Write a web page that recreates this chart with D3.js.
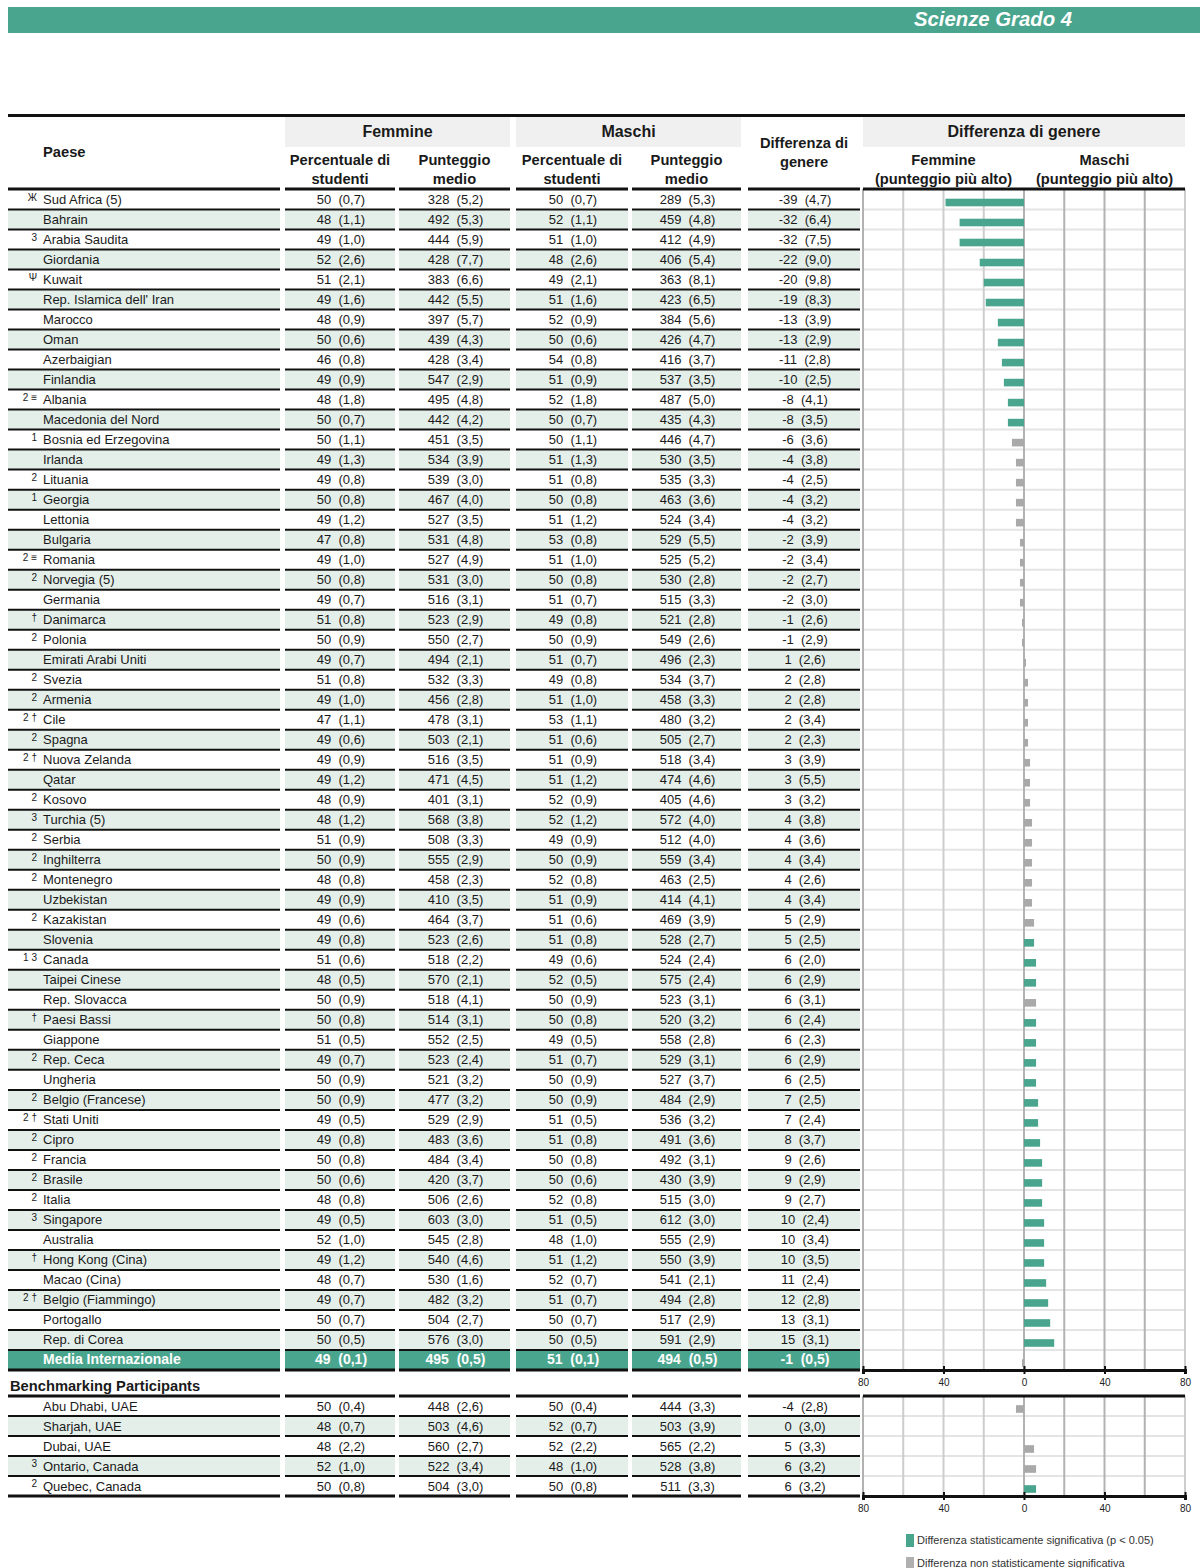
<!DOCTYPE html>
<html lang="it">
<head>
<meta charset="UTF-8" />
<title>Scienze Grado 4</title>
<script src="https://d3js.org/d3.v7.min.js"></script>
<style>
  body { margin: 0; background: #fff; font-family: "Liberation Sans", Arial, sans-serif; }
  svg { display: block; }
  .cell { font-size: 13px; fill: #1a1a1a; white-space: pre; }
  .hdr { font-size: 14.7px; font-weight: bold; fill: #1a1a1a; }
  .grp { font-size: 16px; }
  .note { font-size: 10px; fill: #1a1a1a; white-space: pre; }
  .tick text { font-size: 10px; fill: #222; font-family: "Liberation Sans", Arial, sans-serif; }
  .legend { font-size: 11px; fill: #333; }
</style>
</head>
<body>
<svg width="1200" height="1568"></svg>
<script>
// ---- data ----
const countries = ["Sud Africa (5)","Bahrain","Arabia Saudita","Giordania","Kuwait","Rep. Islamica dell' Iran","Marocco","Oman","Azerbaigian","Finlandia",
  "Albania","Macedonia del Nord","Bosnia ed Erzegovina","Irlanda","Lituania","Georgia","Lettonia","Bulgaria","Romania","Norvegia (5)",
  "Germania","Danimarca","Polonia","Emirati Arabi Uniti","Svezia","Armenia","Cile","Spagna","Nuova Zelanda","Qatar",
  "Kosovo","Turchia (5)","Serbia","Inghilterra","Montenegro","Uzbekistan","Kazakistan","Slovenia","Canada","Taipei Cinese",
  "Rep. Slovacca","Paesi Bassi","Giappone","Rep. Ceca","Ungheria","Belgio (Francese)","Stati Uniti","Cipro","Francia","Brasile",
  "Italia","Singapore","Australia","Hong Kong (Cina)","Macao (Cina)","Belgio (Fiammingo)","Portogallo","Rep. di Corea","Media Internazionale"];
const notes = ["Ж","","3","","Ψ","","","","","",
  "2 ≡","","1","","2","1","","","2 ≡","2",
  "","†","2","","2","2","2 †","2","2 †","",
  "2","3","2","2","2","","2","","1 3","",
  "","†","","2","","2","2 †","2","2","2",
  "2","3","","†","","2 †","","",""];
const fPct = [50,48,49,52,51,49,48,50,46,49, 48,50,50,49,49,50,49,47,49,50, 49,51,50,49,51,49,47,49,49,49,
  48,48,51,50,48,49,49,49,51,48, 50,50,51,49,50,50,49,49,50,50, 48,49,52,49,48,49,50,50,49];
const fPctSe = [0.7,1.1,1.0,2.6,2.1,1.6,0.9,0.6,0.8,0.9, 1.8,0.7,1.1,1.3,0.8,0.8,1.2,0.8,1.0,0.8, 0.7,0.8,0.9,0.7,0.8,1.0,1.1,0.6,0.9,1.2,
  0.9,1.2,0.9,0.9,0.8,0.9,0.6,0.8,0.6,0.5, 0.9,0.8,0.5,0.7,0.9,0.9,0.5,0.8,0.8,0.6, 0.8,0.5,1.0,1.2,0.7,0.7,0.7,0.5,0.1];
const fScore = [328,492,444,428,383,442,397,439,428,547, 495,442,451,534,539,467,527,531,527,531, 516,523,550,494,532,456,478,503,516,471,
  401,568,508,555,458,410,464,523,518,570, 518,514,552,523,521,477,529,483,484,420, 506,603,545,540,530,482,504,576,495];
const fScoreSe = [5.2,5.3,5.9,7.7,6.6,5.5,5.7,4.3,3.4,2.9, 4.8,4.2,3.5,3.9,3.0,4.0,3.5,4.8,4.9,3.0, 3.1,2.9,2.7,2.1,3.3,2.8,3.1,2.1,3.5,4.5,
  3.1,3.8,3.3,2.9,2.3,3.5,3.7,2.6,2.2,2.1, 4.1,3.1,2.5,2.4,3.2,3.2,2.9,3.6,3.4,3.7, 2.6,3.0,2.8,4.6,1.6,3.2,2.7,3.0,0.5];
const mPct = [50,52,51,48,49,51,52,50,54,51, 52,50,50,51,51,50,51,53,51,50, 51,49,50,51,49,51,53,51,51,51,
  52,52,49,50,52,51,51,51,49,52, 50,50,49,51,50,50,51,51,50,50, 52,51,48,51,52,51,50,50,51];
const mPctSe = [0.7,1.1,1.0,2.6,2.1,1.6,0.9,0.6,0.8,0.9, 1.8,0.7,1.1,1.3,0.8,0.8,1.2,0.8,1.0,0.8, 0.7,0.8,0.9,0.7,0.8,1.0,1.1,0.6,0.9,1.2,
  0.9,1.2,0.9,0.9,0.8,0.9,0.6,0.8,0.6,0.5, 0.9,0.8,0.5,0.7,0.9,0.9,0.5,0.8,0.8,0.6, 0.8,0.5,1.0,1.2,0.7,0.7,0.7,0.5,0.1];
const mScore = [289,459,412,406,363,423,384,426,416,537, 487,435,446,530,535,463,524,529,525,530, 515,521,549,496,534,458,480,505,518,474,
  405,572,512,559,463,414,469,528,524,575, 523,520,558,529,527,484,536,491,492,430, 515,612,555,550,541,494,517,591,494];
const mScoreSe = [5.3,4.8,4.9,5.4,8.1,6.5,5.6,4.7,3.7,3.5, 5.0,4.3,4.7,3.5,3.3,3.6,3.4,5.5,5.2,2.8, 3.3,2.8,2.6,2.3,3.7,3.3,3.2,2.7,3.4,4.6,
  4.6,4.0,4.0,3.4,2.5,4.1,3.9,2.7,2.4,2.4, 3.1,3.2,2.8,3.1,3.7,2.9,3.2,3.6,3.1,3.9, 3.0,3.0,2.9,3.9,2.1,2.8,2.9,2.9,0.5];
const diff = [-39,-32,-32,-22,-20,-19,-13,-13,-11,-10, -8,-8,-6,-4,-4,-4,-4,-2,-2,-2, -2,-1,-1,1,2,2,2,2,3,3,
  3,4,4,4,4,4,5,5,6,6, 6,6,6,6,6,7,7,8,9,9, 9,10,10,10,11,12,13,15,-1];
const diffSe = [4.7,6.4,7.5,9.0,9.8,8.3,3.9,2.9,2.8,2.5, 4.1,3.5,3.6,3.8,2.5,3.2,3.2,3.9,3.4,2.7, 3.0,2.6,2.9,2.6,2.8,2.8,3.4,2.3,3.9,5.5,
  3.2,3.8,3.6,3.4,2.6,3.4,2.9,2.5,2.0,2.9, 3.1,2.4,2.3,2.9,2.5,2.5,2.4,3.7,2.6,2.9, 2.7,2.4,3.4,3.5,2.4,2.8,3.1,3.1,0.5];
const significant = [1,1,1,1,1,1,1,1,1,1, 1,1,0,0,0,0,0,0,0,0, 0,0,0,0,0,0,0,0,0,0,
  0,0,0,0,0,0,0,1,1,1, 0,1,1,1,1,1,1,1,1,1, 1,1,1,1,1,1,1,1,0];

const benchNames = ["Abu Dhabi, UAE","Sharjah, UAE","Dubai, UAE","Ontario, Canada","Quebec, Canada"];
const benchNotes = ["","","","3","2"];
const bfPct = [50,48,48,52,50];
const bfPctSe = [0.4,0.7,2.2,1.0,0.8];
const bfScore = [448,503,560,522,504];
const bfScoreSe = [2.6,4.6,2.7,3.4,3.0];
const bmPct = [50,52,52,48,50];
const bmPctSe = [0.4,0.7,2.2,1.0,0.8];
const bmScore = [444,503,565,528,511];
const bmScoreSe = [3.3,3.9,2.2,3.8,3.3];
const bDiff = [-4,0,5,6,6];
const bDiffSe = [2.8,3.0,3.3,3.2,3.2];
const bSignificant = [0,0,0,0,1];

const diffTicks = [-80,-40,0,40,80];

// ---- setup ----
const svg = d3.select("svg");
const teal = "#4aa58e", grayBar = "#a9a9a9", stripe = "#e4efea", headBg = "#f0f0f0";
const it = d3.formatLocale({decimal: ",", thousands: ".", grouping: [3], currency: ["", ""]});
const f1 = it.format(".1f");
const cell = (v, se) => `${v}  (${f1(se)})`;

const cols = [
  {x0: 8, x1: 280},
  {x0: 285, x1: 395},
  {x0: 399, x1: 510},
  {x0: 516, x1: 628},
  {x0: 632, x1: 741},
  {x0: 748, x1: 860}
];
const chartX0 = 863, chartX1 = 1185;
const x = d3.scaleLinear().domain([-80, 80]).range([chartX0, chartX1]);

function buildRows(names, nts, a, b, c, d, e, f, g, h, dv, dse, sig) {
  return names.map((n, i) => ({
    name: n, note: nts[i],
    vals: [cell(a[i], b[i]), cell(c[i], d[i]), cell(e[i], f[i]), cell(g[i], h[i]), cell(dv[i], dse[i])],
    diff: dv[i], sig: !!sig[i], avg: n === "Media Internazionale"
  }));
}
const mainRows = buildRows(countries, notes, fPct, fPctSe, fScore, fScoreSe, mPct, mPctSe, mScore, mScoreSe, diff, diffSe, significant);
const benchRows = buildRows(benchNames, benchNotes, bfPct, bfPctSe, bfScore, bfScoreSe, bmPct, bmPctSe, bmScore, bmScoreSe, bDiff, bDiffSe, bSignificant);

const yMain = d3.scaleBand().domain(d3.range(mainRows.length)).range([189.5, 1370]);
const yBench = d3.scaleBand().domain(d3.range(benchRows.length)).range([1396, 1496]);

// ---- title band ----
svg.append("rect").attr("x", 8).attr("y", 7).attr("width", 1192).attr("height", 26).attr("fill", teal);
svg.append("text").attr("x", 993).attr("y", 26).attr("text-anchor", "middle")
  .attr("fill", "#fff").attr("font-size", 20).attr("font-weight", "bold").attr("font-style", "italic")
  .attr("textLength", 158).attr("lengthAdjust", "spacingAndGlyphs")
  .text("Scienze Grado 4");

// ---- table header ----
svg.append("line").attr("x1", 8).attr("x2", chartX1).attr("y1", 115.5).attr("y2", 115.5)
  .attr("stroke", "#111").attr("stroke-width", 3);

const groups = [
  {label: "Femmine", x0: cols[1].x0, x1: cols[2].x1},
  {label: "Maschi", x0: cols[3].x0, x1: cols[4].x1},
  {label: "Differenza di genere", x0: chartX0, x1: chartX1}
];
svg.selectAll("rect.grp").data(groups).enter().append("rect").attr("class", "grp")
  .attr("x", d => d.x0).attr("y", 117).attr("width", d => d.x1 - d.x0).attr("height", 30).attr("fill", headBg);
svg.selectAll("text.grp").data(groups).enter().append("text").attr("class", "hdr grp")
  .attr("x", d => (d.x0 + d.x1) / 2).attr("y", 137).attr("text-anchor", "middle").text(d => d.label);

svg.append("text").attr("class", "hdr").attr("x", 43).attr("y", 157).text("Paese");

const subHeads = [
  {cx: (cols[1].x0 + cols[1].x1) / 2, lines: ["Percentuale di", "studenti"], y: 165},
  {cx: (cols[2].x0 + cols[2].x1) / 2, lines: ["Punteggio", "medio"], y: 165},
  {cx: (cols[3].x0 + cols[3].x1) / 2, lines: ["Percentuale di", "studenti"], y: 165},
  {cx: (cols[4].x0 + cols[4].x1) / 2, lines: ["Punteggio", "medio"], y: 165},
  {cx: (cols[5].x0 + cols[5].x1) / 2, lines: ["Differenza di", "genere"], y: 148},
  {cx: x(-40), lines: ["Femmine", "(punteggio più alto)"], y: 165},
  {cx: x(40), lines: ["Maschi", "(punteggio più alto)"], y: 165}
];
subHeads.forEach(h => {
  h.lines.forEach((l, k) => {
    svg.append("text").attr("class", "hdr").attr("x", h.cx).attr("y", h.y + k * 19)
      .attr("text-anchor", "middle").text(l);
  });
});

// ---- block drawing ----
function drawBlock(rows, y, topY) {
  const g = svg.append("g");
  const bw = y.bandwidth();
  const bottom = y.range()[1];

  // stripes / highlighted row
  rows.forEach((r, i) => {
    if (r.avg || i % 2 === 1) {
      g.selectAll(null).data(cols).enter().append("rect")
        .attr("x", c => c.x0).attr("y", y(i)).attr("width", c => c.x1 - c.x0).attr("height", bw)
        .attr("fill", r.avg ? teal : stripe);
    }
  });

  // chart: light row lines
  g.selectAll("line.hrow").data(rows.slice(0, -1)).enter().append("line").attr("class", "hrow")
    .attr("x1", chartX0).attr("x2", chartX1)
    .attr("y1", (d, i) => y(i) + bw).attr("y2", (d, i) => y(i) + bw)
    .attr("stroke", "#e4e4e4").attr("stroke-width", 2);

  // chart: vertical grid
  g.selectAll("line.vgrid").data(d3.range(-80, 81, 20)).enter().append("line").attr("class", "vgrid")
    .attr("x1", d => x(d)).attr("x2", d => x(d)).attr("y1", topY).attr("y2", bottom)
    .attr("stroke", d => (d >= 0 && d < 80) || d === -80 ? "#b2b2b2" : "#cdcdcd").attr("stroke-width", 2);

  // bars
  g.selectAll("rect.bar").data(rows).enter().append("rect").attr("class", "bar")
    .attr("x", d => x(Math.min(0, d.diff)))
    .attr("width", d => Math.abs(x(d.diff) - x(0)))
    .attr("y", (d, i) => y(i) + bw * 0.46)
    .attr("height", bw * 0.38)
    .attr("fill", d => d.sig ? teal : grayBar);

  // row separators in the table
  rows.forEach((r, i) => {
    const yy = y(i) + bw;
    const last = i === rows.length - 1;
    g.selectAll(null).data(cols).enter().append("line")
      .attr("x1", c => c.x0).attr("x2", c => c.x1).attr("y1", yy).attr("y2", yy)
      .attr("stroke", "#111").attr("stroke-width", last ? 3 : 2);
  });

  // top line of block
  g.selectAll(null).data(cols.concat([{x0: chartX0, x1: chartX1}])).enter().append("line")
    .attr("x1", c => c.x0).attr("x2", c => c.x1).attr("y1", topY).attr("y2", topY)
    .attr("stroke", "#111").attr("stroke-width", 3);

  // texts
  rows.forEach((r, i) => {
    const cy = y(i) + bw / 2;
    const color = r.avg ? "#fff" : "#1a1a1a";
    const weight = r.avg ? "bold" : "normal";
    const size = r.avg ? 14 : 13;
    if (r.note) {
      g.append("text").attr("class", "note").attr("x", 37).attr("y", cy + 1)
        .attr("text-anchor", "end").text(r.note);
    }
    g.append("text").attr("class", "cell").attr("x", 43).attr("y", cy + 4.5)
      .style("fill", color).style("font-weight", weight).style("font-size", size + "px").text(r.name);
    r.vals.forEach((v, k) => {
      const c = cols[k + 1];
      g.append("text").attr("class", "cell").attr("x", (c.x0 + c.x1) / 2 + 1).attr("y", cy + 4.5)
        .attr("text-anchor", "middle").style("fill", color).style("font-weight", weight)
        .style("font-size", size + "px").text(v);
    });
  });

  // axis
  const axis = d3.axisBottom(x).tickValues(diffTicks).tickFormat(d => Math.abs(d))
    .tickSizeOuter(0).tickSize(4);
  const ax = svg.append("g").attr("transform", `translate(0,${bottom})`).call(axis);
  ax.select(".domain").attr("stroke", "#111").attr("stroke-width", 3);
  ax.selectAll(".tick line").attr("y1", -4).attr("y2", 4).attr("stroke", "#111").attr("stroke-width", 2);
  ax.selectAll(".tick text").attr("y", 9);
}

drawBlock(mainRows, yMain, 189);

svg.append("text").attr("class", "hdr").attr("x", 10).attr("y", 1391).text("Benchmarking Participants");

drawBlock(benchRows, yBench, 1396);

// ---- legend ----
const legendData = [
  {color: teal, label: "Differenza statisticamente significativa (p < 0.05)"},
  {color: "#b0b0b0", label: "Differenza non statisticamente significativa"}
];
const legend = svg.append("g").attr("transform", "translate(906,1534)");
legend.selectAll("rect").data(legendData).enter().append("rect")
  .attr("x", 0).attr("y", (d, i) => i * 23).attr("width", 8).attr("height", 13).attr("fill", d => d.color);
legend.selectAll("text").data(legendData).enter().append("text").attr("class", "legend")
  .attr("x", 11).attr("y", (d, i) => i * 23 + 10).text(d => d.label);
</script>
</body>
</html>
